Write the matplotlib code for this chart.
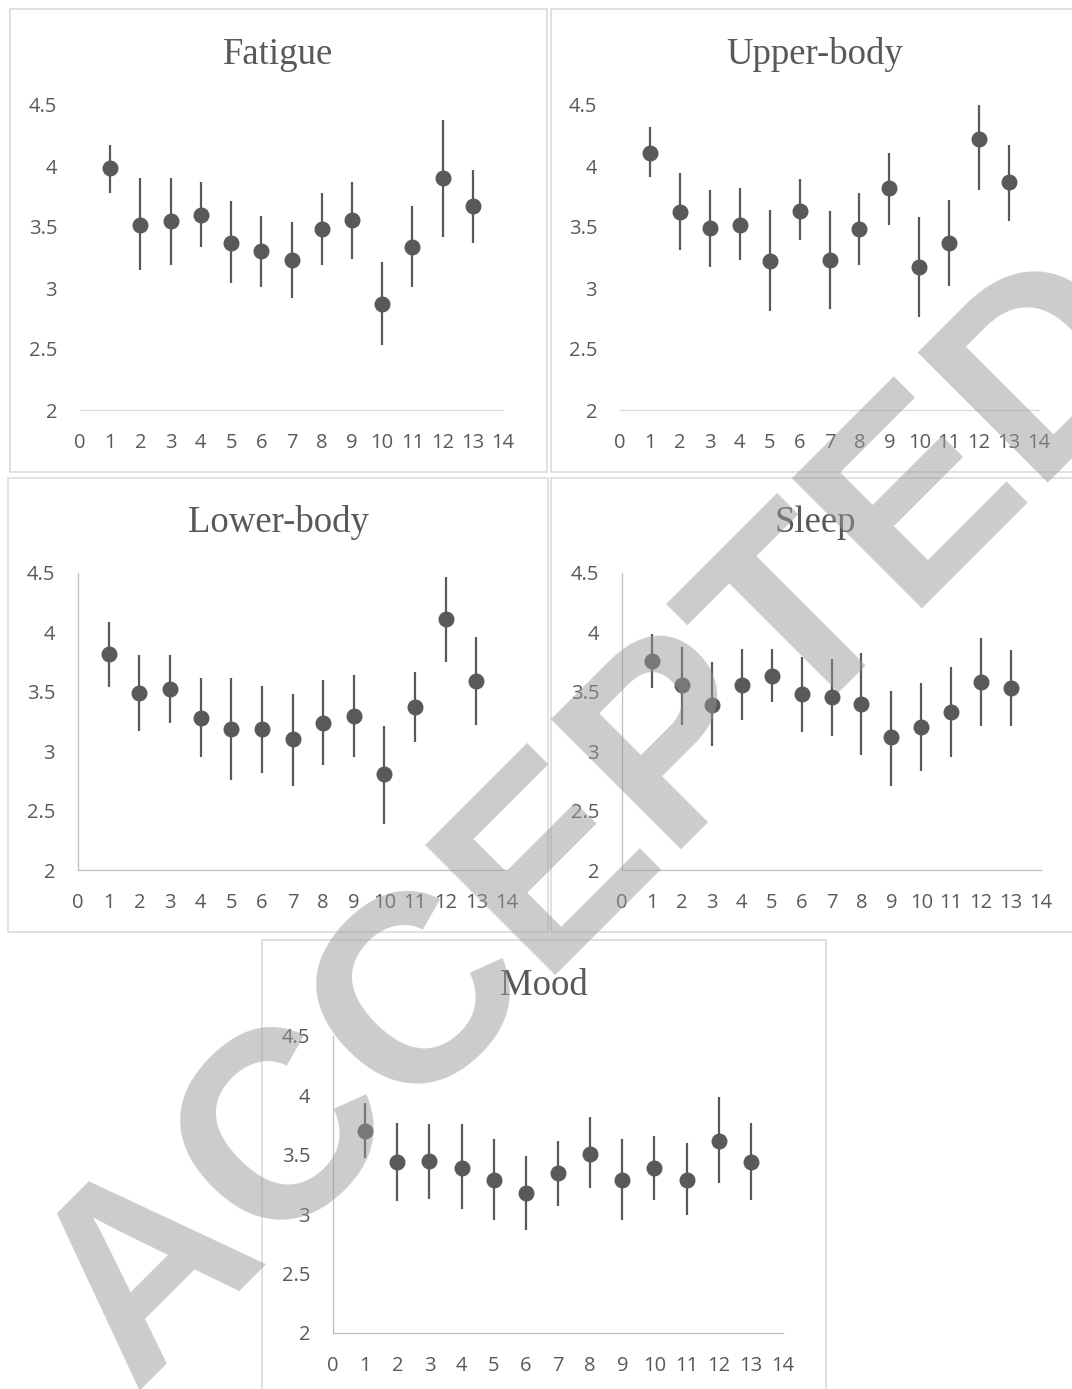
import numpy as np
import matplotlib
matplotlib.use("Agg")
import matplotlib.pyplot as plt
from matplotlib.patches import Rectangle

days = np.arange(1, 14)

fatigue_mean = np.array([3.98, 3.52, 3.55, 3.60, 3.37, 3.30, 3.23, 3.48, 3.56, 2.87, 3.34, 3.90, 3.67])
fatigue_lo = np.array([3.78, 3.15, 3.19, 3.34, 3.04, 3.01, 2.92, 3.19, 3.24, 2.53, 3.01, 3.42, 3.37])
fatigue_hi = np.array([4.17, 3.90, 3.90, 3.87, 3.71, 3.59, 3.54, 3.78, 3.87, 3.21, 3.67, 4.38, 3.97])

upper_mean = np.array([4.11, 3.62, 3.49, 3.52, 3.22, 3.63, 3.23, 3.48, 3.82, 3.17, 3.37, 4.22, 3.87])
upper_lo = np.array([3.91, 3.31, 3.17, 3.23, 2.81, 3.39, 2.83, 3.19, 3.52, 2.76, 3.02, 3.80, 3.55])
upper_hi = np.array([4.32, 3.94, 3.80, 3.82, 3.64, 3.89, 3.63, 3.78, 4.11, 3.58, 3.72, 4.50, 4.17])

lower_mean = np.array([3.82, 3.49, 3.52, 3.28, 3.19, 3.19, 3.10, 3.24, 3.30, 2.81, 3.37, 4.11, 3.59])
lower_lo = np.array([3.54, 3.17, 3.24, 2.95, 2.76, 2.82, 2.71, 2.88, 2.95, 2.39, 3.08, 3.75, 3.22])
lower_hi = np.array([4.09, 3.81, 3.81, 3.62, 3.62, 3.55, 3.48, 3.60, 3.64, 3.21, 3.67, 4.47, 3.96])

sleep_mean = np.array([3.76, 3.56, 3.39, 3.56, 3.63, 3.48, 3.46, 3.40, 3.12, 3.20, 3.33, 3.58, 3.53])
sleep_lo = np.array([3.53, 3.22, 3.04, 3.26, 3.41, 3.16, 3.13, 2.97, 2.71, 2.83, 2.95, 3.21, 3.21])
sleep_hi = np.array([3.99, 3.88, 3.75, 3.86, 3.86, 3.79, 3.78, 3.83, 3.51, 3.57, 3.71, 3.95, 3.85])

mood_mean = np.array([3.70, 3.44, 3.45, 3.39, 3.29, 3.18, 3.35, 3.51, 3.29, 3.39, 3.29, 3.62, 3.44])
mood_lo = np.array([3.47, 3.11, 3.13, 3.04, 2.95, 2.87, 3.07, 3.22, 2.95, 3.12, 2.99, 3.26, 3.12])
mood_hi = np.array([3.94, 3.77, 3.76, 3.76, 3.63, 3.49, 3.62, 3.82, 3.63, 3.66, 3.60, 3.99, 3.77])

xticks = np.arange(0, 15)
yticks = [2, 2.5, 3, 3.5, 4, 4.5]
ytick_labels = ["2", "2.5", "3", "3.5", "4", "4.5"]

W, H = 1072, 1389
DARK = "#595959"

fig = plt.figure(figsize=(W / 100, H / 100), dpi=100)


def frac(x0, y0, x1, y1):
    return [x0 / W, 1 - y1 / H, (x1 - x0) / W, (y1 - y0) / H]


def box(x0, y0, x1, y1):
    r = Rectangle((x0 / W, 1 - y1 / H), (x1 - x0) / W, (y1 - y0) / H,
                  transform=fig.transFigure, fill=False,
                  edgecolor="#d9d9d9", lw=1.1)
    fig.patches.append(r)


def panel(boxrect, axrect, title, title_y, mean, lo, hi, show_left, spine_col):
    box(*boxrect)
    ax = fig.add_axes(frac(*axrect))
    ax.patch.set_alpha(0)
    ax.errorbar(days, mean, yerr=[mean - lo, hi - mean], fmt="o", color=DARK,
                ms=10.5, elinewidth=1.6, capsize=0, clip_on=False)
    ax.set_xlim(0, 14)
    ax.set_ylim(2, 4.5)
    ax.set_xticks(xticks)
    ax.set_yticks(yticks)
    ax.set_yticklabels(ytick_labels)
    for s in ["top", "right"]:
        ax.spines[s].set_visible(False)
    ax.spines["left"].set_visible(show_left)
    for s in ["left", "bottom"]:
        ax.spines[s].set_color(spine_col)
        ax.spines[s].set_linewidth(0.9)
    ax.tick_params(axis="x", length=0, pad=16.5, labelsize=14.5, labelcolor=DARK)
    ax.tick_params(axis="y", length=0, pad=16.5, labelsize=14.5, labelcolor=DARK)
    for lab in ax.get_xticklabels() + ax.get_yticklabels():
        lab.set_family("Open Sans")
    cx = (boxrect[0] + boxrect[2]) / 2
    fig.text(cx / W, 1 - title_y / H, title, ha="center", va="baseline",
             fontsize=26.5, color=DARK, family="Liberation Serif")
    return ax


panel((10, 9, 547, 472), (80, 105, 503, 410), "Fatigue", 64,
      fatigue_mean, fatigue_lo, fatigue_hi, False, "#d9d9d9")
panel((551, 9, 1079, 472), (620, 105, 1039, 410), "Upper-body", 64,
      upper_mean, upper_lo, upper_hi, False, "#d9d9d9")
panel((8, 478, 548, 932), (78, 573, 507, 870), "Lower-body", 532,
      lower_mean, lower_lo, lower_hi, True, "#bfbfbf")
panel((551, 478, 1079, 932), (622, 573, 1041, 870), "Sleep", 532,
      sleep_mean, sleep_lo, sleep_hi, True, "#bfbfbf")
panel((262, 940, 826, 1400), (333, 1036, 783, 1333), "Mood", 995,
      mood_mean, mood_lo, mood_hi, True, "#bfbfbf")

# watermark
fig.text(652 / W, 1 - 872 / H, "ACCEPTED", rotation=45, rotation_mode="anchor",
         ha="center", va="baseline", fontsize=192, fontweight="bold",
         color="#999999", alpha=0.5, family="Liberation Sans", zorder=10)

fig.savefig("out.png", dpi=100)
